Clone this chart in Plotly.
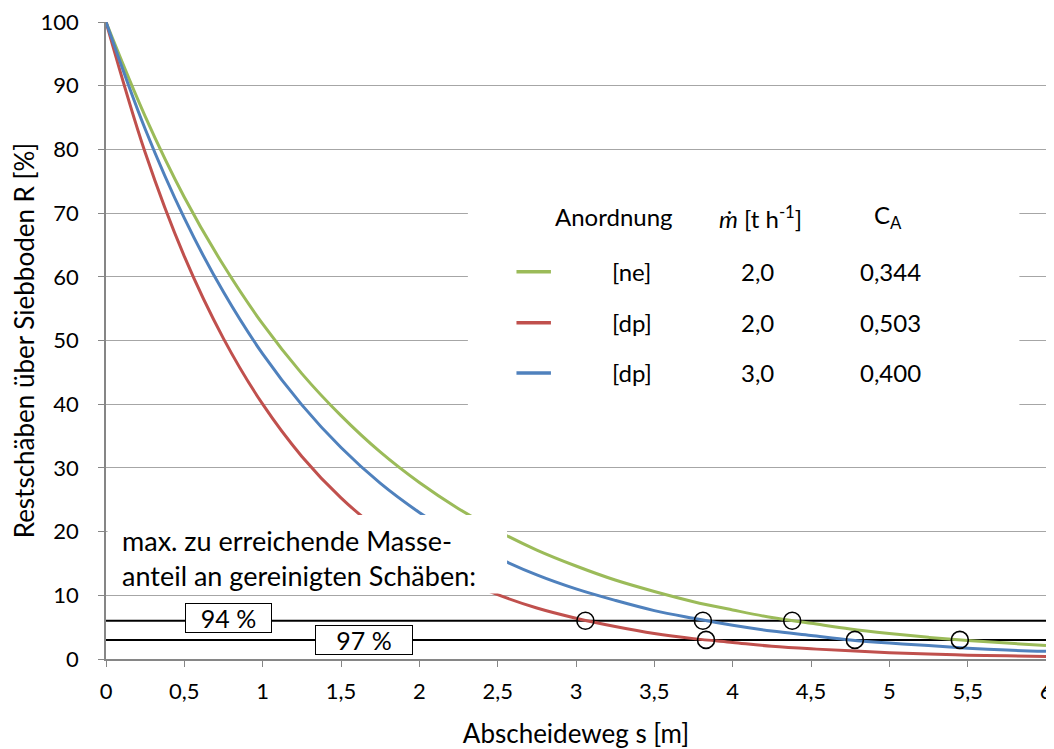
import plotly.graph_objects as go

# ---- data ----
s = [0, 0.25, 0.5, 0.75, 1, 1.25, 1.5, 1.75, 2, 2.25, 2.5, 2.75, 3, 3.25, 3.5,
     3.75, 4, 4.25, 4.5, 4.75, 5, 5.25, 5.5, 5.75, 6]
r_ne_20 = [100, 85.2, 72.5, 61.8, 52.6, 44.8, 38.2, 32.5, 27.7, 23.6, 20.1, 17.1,
           14.6, 12.4, 10.6, 9.0, 7.7, 6.5, 5.6, 4.7, 4.0, 3.4, 2.9, 2.5, 2.1]
r_dp_20 = [100, 79.5, 63.2, 50.3, 40.0, 31.8, 25.3, 20.1, 16.0, 12.7, 10.1, 8.0,
           6.4, 5.1, 4.0, 3.2, 2.6, 2.0, 1.6, 1.3, 1.0, 0.8, 0.6, 0.5, 0.4]
r_dp_30 = [100, 83.2, 69.2, 57.6, 47.9, 39.9, 33.2, 27.6, 23.0, 19.1, 15.9, 13.2,
           11.0, 9.2, 7.6, 6.4, 5.3, 4.4, 3.7, 3.0, 2.5, 2.1, 1.7, 1.4, 1.2]

series_names = ["[ne]", "[dp]", "[dp]"]
series_mdot = ["2,0", "2,0", "3,0"]
series_ca = ["0,344", "0,503", "0,400"]
series_colors = ["#9BBB59", "#C0504D", "#4F81BD"]

limit_levels = [6, 3]
limit_labels = ["94 %", "97 %"]
limit_label_x = [0.783, 1.647]
limit_label_y = [6.4, 3.0]

circle_x = [3.06, 3.81, 4.38, 3.83, 4.78, 5.45]
circle_y = [6, 6, 6, 3, 3, 3]

x_ticks = [0, 0.5, 1, 1.5, 2, 2.5, 3, 3.5, 4, 4.5, 5, 5.5, 6]
x_ticktext = ["0", "0,5", "1", "1,5", "2", "2,5", "3", "3,5", "4", "4,5", "5", "5,5", "6"]
y_ticks = [0, 10, 20, 30, 40, 50, 60, 70, 80, 90, 100]

FONT = "Lato, Carlito, Calibri, sans-serif"

fig = go.Figure()

for lvl in limit_levels:
    fig.add_trace(go.Scatter(x=[0, 6], y=[lvl, lvl], mode="lines",
                             line=dict(color="black", width=2), showlegend=False,
                             hoverinfo="skip"))

for ys, col in zip([r_ne_20, r_dp_20, r_dp_30], series_colors):
    fig.add_trace(go.Scatter(x=s, y=ys, mode="lines",
                             line=dict(color=col, width=3, shape="spline"),
                             showlegend=False))

fig.add_trace(go.Scatter(x=circle_x, y=circle_y, mode="markers",
                         marker=dict(symbol="circle-open", size=17,
                                     line=dict(color="black", width=1.6), color="black"),
                         showlegend=False))

# white boxes (text box over curves, legend box over gridlines)
fig.add_shape(type="rect", xref="x", yref="y", x0=0.01, x1=2.56, y0=10.3, y1=22.6,
              fillcolor="white", line=dict(width=0), layer="above")
fig.add_shape(type="rect", xref="x", yref="y", x0=2.31, x1=5.83, y0=35.5, y1=73,
              fillcolor="white", line=dict(width=0), layer="above")

fig.add_annotation(x=0.09, y=15.8, xref="x", yref="y", xanchor="left", yanchor="middle",
                   text="max. zu erreichende Masse-<br>anteil an gereinigten Schäben:",
                   showarrow=False, align="left",
                   font=dict(family=FONT, size=27, color="black"))

for lbl, lx, ly, w in zip(limit_labels, limit_label_x, limit_label_y, [81, 92]):
    fig.add_annotation(x=lx, y=ly, xref="x", yref="y", text=lbl, showarrow=False,
                       bgcolor="white", bordercolor="black", borderwidth=1,
                       borderpad=2, width=w, height=24,
                       font=dict(family=FONT, size=25, color="black"))

# legend table
hdr_y = 69.4
row_y = [60.8, 52.8, 44.9]
hdr_x = [3.24, 4.18, 4.99]
col_x = [3.355, 4.16, 5.01]
hdr_txt = ["Anordnung", "<i>ṁ</i> [t h<sup>-1</sup>]", "C<sub>A</sub>"]
for hx, ht in zip(hdr_x, hdr_txt):
    fig.add_annotation(x=hx, y=hdr_y, xref="x", yref="y", text=ht,
                       showarrow=False, font=dict(family=FONT, size=24, color="black"))
for i in range(3):
    fig.add_shape(type="line", xref="x", yref="y", x0=2.62, x1=2.84,
                  y0=row_y[i], y1=row_y[i], line=dict(color=series_colors[i], width=3.5),
                  layer="above")
    for cx, txt in zip(col_x, [series_names[i], series_mdot[i], series_ca[i]]):
        fig.add_annotation(x=cx, y=row_y[i], xref="x", yref="y", text=txt,
                           showarrow=False,
                           font=dict(family=FONT, size=24, color="black"))

# page body has an 8px margin, so the figure is 8px smaller and margins shifted
fig.update_layout(
    width=1046, height=741,
    margin=dict(l=98, r=8, t=14, b=90),
    paper_bgcolor="white", plot_bgcolor="white",
    font=dict(family=FONT, size=22, color="black"),
    xaxis=dict(range=[0, 6], tickvals=x_ticks, ticktext=x_ticktext,
               showgrid=False, zeroline=False, showline=True, linecolor="#868686",
               linewidth=1.5, ticks="outside", ticklen=6, tickcolor="#868686",
               tickfont=dict(family=FONT, size=22), automargin=False,
               ticklabelstandoff=6, ticklabeloverflow="allow",
               title=dict(text="Abscheideweg s [m]", font=dict(family=FONT, size=26),
                          standoff=24)),
    yaxis=dict(range=[0, 100], tickvals=y_ticks,
               showgrid=True, gridcolor="#A6A6A6", gridwidth=1, zeroline=False,
               showline=True, linecolor="#868686", linewidth=1.5,
               ticks="outside", ticklen=6, tickcolor="#868686",
               tickfont=dict(family=FONT, size=22), automargin=False,
               ticklabelstandoff=15, ticklabeloverflow="allow",
               title=dict(text="Restschäben über Siebboden R [%]",
                          font=dict(family=FONT, size=26), standoff=6)),
    showlegend=False,
)

fig.write_html("out.html")
